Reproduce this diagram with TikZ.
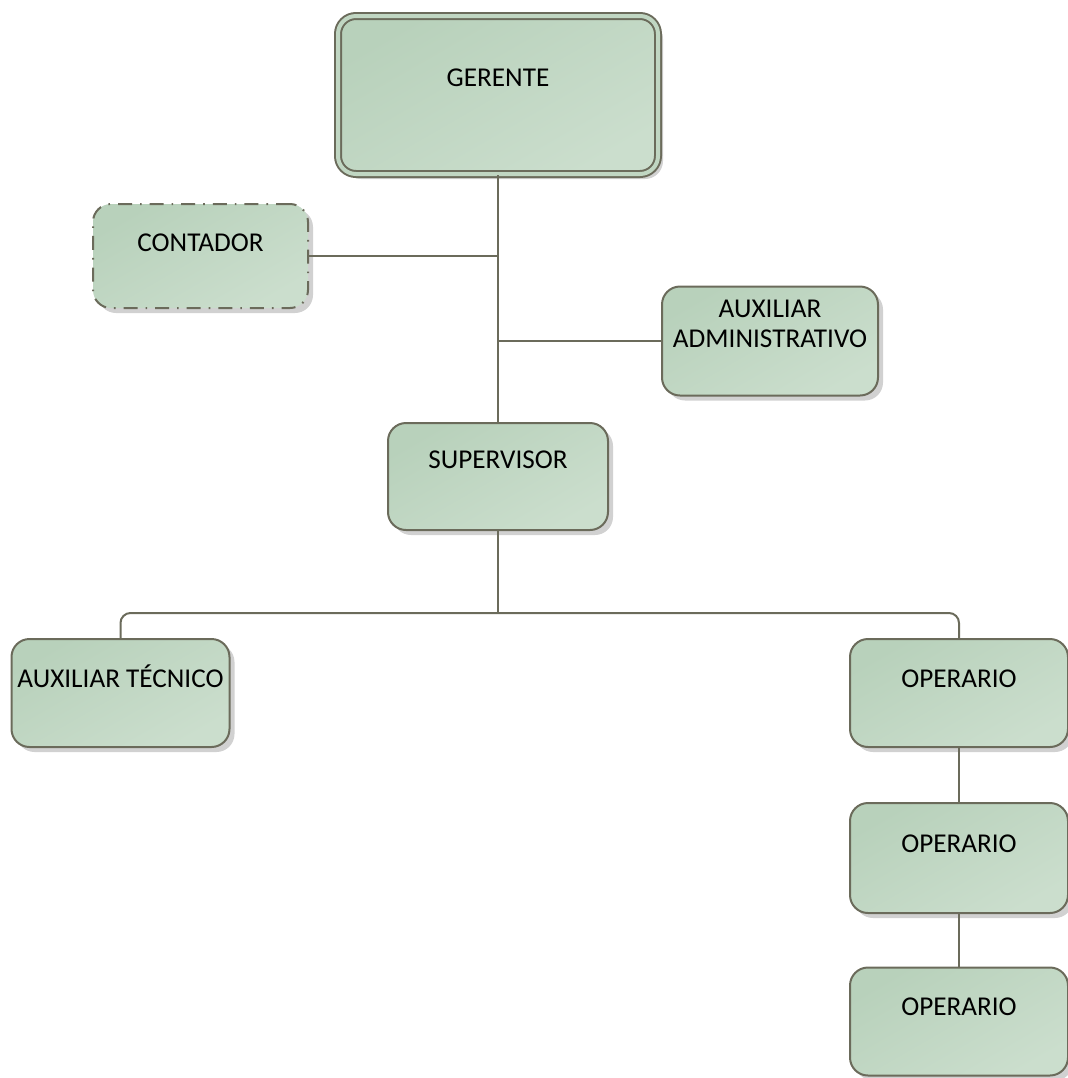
\documentclass[tikz,border=0pt]{standalone}
\usepackage{fontspec}
\setmainfont{Carlito}
\usetikzlibrary{shadows}
\definecolor{boxlight}{HTML}{CBDECD}
\definecolor{boxdark}{HTML}{B8D1BB}
\definecolor{boxline}{HTML}{6B6B5B}

\begin{document}
\begin{tikzpicture}[x=0.5pt,y=-0.5pt,line width=1pt,
  main node/.style={rectangle,rounded corners=9pt,draw=boxline,top color=boxdark,bottom color=boxlight,shading angle=30,
    drop shadow={shadow xshift=2.5pt,shadow yshift=-2.5pt,fill=black!18,opacity=1},
    minimum width=109pt,minimum height=54pt,inner sep=0pt,text height=9pt,text depth=15pt,
    font=\fontsize{13.6pt}{15pt}\selectfont},
  head node/.style={main node,double=boxdark!60!boxlight,double distance=2pt,minimum width=160pt,minimum height=79pt,text depth=18pt},
  side node/.style={main node,dash pattern=on 7pt off 4pt on 0.8pt off 4pt}]
  \useasboundingbox (0,0) rectangle (1068,1078);

  \node[head node] (ger) at (498,95) {GERENTE};
  \node[side node,minimum width=107.5pt,minimum height=52pt,text depth=14pt] (cont) at (200.5,256) {CONTADOR};
  \node[main node,align=center,minimum width=108pt,minimum height=54.5pt,text height=24pt,text depth=17.5pt] (aux) at (770,341) {AUXILIAR\\ADMINISTRATIVO};
  \node[main node,minimum width=110pt,minimum height=53.5pt,text depth=17pt] (sup) at (498,476.5) {SUPERVISOR};
  \node[main node] (tec) at (120.5,693) {AUXILIAR TÉCNICO};
  \node[main node] (op1) at (959,693) {OPERARIO};
  \node[main node,minimum height=55pt] (op2) at (959,858) {OPERARIO};
  \node[main node] (op3) at (959,1021.5) {OPERARIO};

  \coordinate (bus) at (498,613);

\path[draw=boxline]
  (ger) edge (sup)
  (cont.east) edge (cont.east -| ger.south)
  (aux.west) edge (aux.west -| ger.south)
  (sup) edge (bus)
  (op1) edge (op2)
  (op2) edge (op3)
;
  \draw[boxline,rounded corners=5pt] (tec.north) |- (bus) -| (op1.north);
\end{tikzpicture}
\end{document}
